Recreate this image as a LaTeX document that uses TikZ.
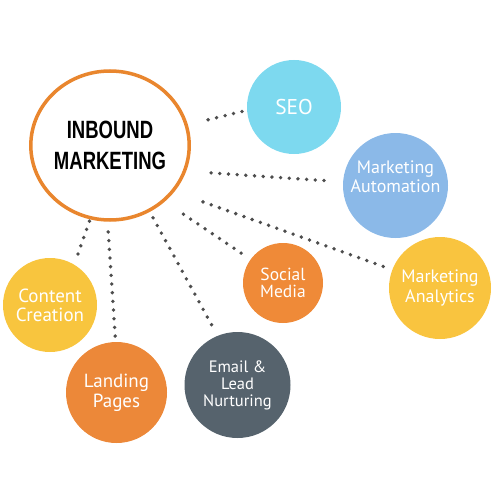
\documentclass[tikz,border=0pt]{standalone}
\usepackage{fontspec}
\setmainfont{PT Sans}
\newfontfamily\headfont[FakeStretch=0.74]{Liberation Sans}
\usetikzlibrary{shapes.geometric}
\definecolor{ringorange}{HTML}{E9862E}
\definecolor{seoblue}{HTML}{7DD9EF}
\definecolor{mablue}{HTML}{8BB9E8}
\definecolor{anyellow}{HTML}{F9C43F}
\definecolor{smorange}{HTML}{EF8A38}
\definecolor{emgray}{HTML}{56636D}
\definecolor{lporange}{HTML}{EC8839}
\definecolor{ccyellow}{HTML}{F8C53E}
\definecolor{dotgray}{HTML}{4D4D4D}
\tikzset{
  hub/.style={ellipse, draw=ringorange, line width=3.5pt, fill=white,
    minimum width=156pt, minimum height=149pt, inner sep=0pt, outer sep=0pt,
    align=center, font=\headfont\bfseries\fontsize{25}{31.7}\selectfont},
  ball/.style={circle, inner sep=0pt, outer sep=0pt, text=white, align=center},
  balltext/.style={text=white, align=center, inner sep=0pt},
  dotline/.style={draw=dotgray, line width=3.8pt, line cap=round,
    dash pattern=on 0pt off 8.7pt}
}
\begin{document}
\begin{tikzpicture}[x=1pt,y=-1pt]
\useasboundingbox (0,0) rectangle (500,500);
\node[hub] (inb) at (110,145.5) {INBOUND\\MARKETING};
\node[ball, fill=seoblue, minimum size=94pt, font=\fontsize{21.4}{24}\selectfont] (seo) at (294,107) {SEO};
\node[ball, fill=mablue, minimum size=105pt] (ma) at (395.5,185.5) {};
\node[balltext, font=\fontsize{18}{19}\selectfont] (matext) at (395.5,177) {Marketing\\Automation};
\node[ball, fill=anyellow, minimum size=102pt, font=\fontsize{18}{20}\selectfont] (an) at (440,288) {Marketing\\Analytics};
\node[ball, fill=smorange, minimum size=80pt, font=\fontsize{17.5}{16.5}\selectfont] (sm) at (283,283) {Social\\Media};
\node[ball, fill=emgray, minimum size=106pt, font=\fontsize{16.5}{17}\selectfont] (em) at (237.5,385) {Email \&\\Lead\\Nurturing};
\node[ball, fill=lporange, minimum size=101pt, font=\fontsize{19}{20}\selectfont] (lp) at (116.5,392.5) {Landing\\Pages};
\node[ball, fill=ccyellow, minimum size=94pt, font=\fontsize{19}{19}\selectfont] (cc) at (50,305) {Content\\Creation};
\draw[dotline, shorten <=22.6pt, shorten >=5.3pt] (inb.15.3) -- (seo.184.6);
\draw[dotline, shorten <=26.8pt, shorten >=15.6pt] (inb.-19.3) -- (ma.176.8);
\draw[dotline, shorten <=32.2pt, shorten >=5.6pt] (inb.-36.5) -- (an.159.2);
\draw[dotline, shorten <=24.3pt, shorten >=8.8pt] (inb.-46) -- (sm.144.9);
\draw[dotline, shorten <=8.5pt, shorten >=9.3pt] (inb.-59.8) -- (em.112.7);
\draw[dotline, shorten <=12pt, shorten >=3pt] (inb.-92.2) -- (lp.91.5);
\draw[dotline, shorten <=3.6pt, shorten >=10pt] (inb.-105.4) -- (cc.59.7);
\end{tikzpicture}
\end{document}
